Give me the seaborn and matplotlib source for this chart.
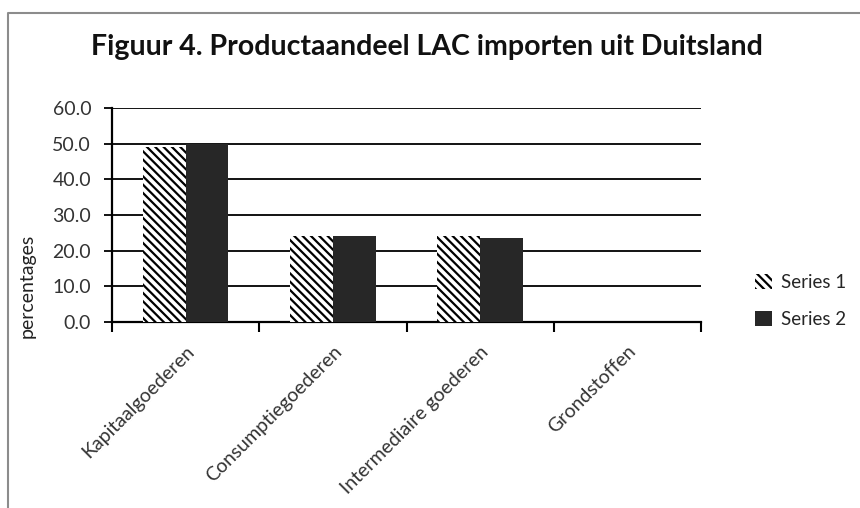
import pandas as pd
import seaborn as sns
import matplotlib.pyplot as plt
import matplotlib.patches as patches
from matplotlib.lines import Line2D
from matplotlib.ticker import FixedLocator

categories = ["Kapitaalgoederen", "Consumptiegoederen", "Intermediaire goederen", "Grondstoffen"]
series_names = ["Series 1", "Series 2"]
series1 = [49.2, 24.2, 24.2, 0.0]
series2 = [50.0, 24.2, 23.6, 0.0]
yticks = [0, 10, 20, 30, 40, 50, 60]

sns.set_style("white")
plt.rcParams['font.family'] = ['Lato', 'DejaVu Sans']
plt.rcParams['hatch.linewidth'] = 1.6
plt.rcParams['hatch.color'] = 'black'

df = pd.DataFrame({
    "cat": categories * 2,
    "series": [series_names[0]] * 4 + [series_names[1]] * 4,
    "value": series1 + series2,
})

fig = plt.figure(figsize=[8.6, 5.08], dpi=100)
ax = fig.add_axes([112/860, 1-322/508, (701-112)/860, (322-108)/508])

colors = ["white", "#272727"]
sns.barplot(data=df, x="cat", y="value", hue="series", palette=colors, width=0.58,
            gap=0, linewidth=0, ax=ax, legend=False, zorder=3)

for p in ax.containers[0]:
    p.set_hatch("\\\\\\\\")
    p.set_edgecolor("black")
    p.set_linewidth(0)

ax.set_ylim(0, 60)
ax.set_xlim(-0.5, 3.5)
ax.set_yticks(yticks)
ax.set_yticklabels([f"{v:.1f}" for v in yticks], fontsize=14, color="#333333")
ax.yaxis.grid(True, color="black", linewidth=1.3, zorder=0)
ax.tick_params(axis="y", direction="out", length=6, width=1.3, color="black", left=True, pad=9)

# category labels at centers, tick marks at boundaries
ax.set_xticks(range(len(categories)))
ax.set_xticklabels(categories, rotation=45, ha="right", rotation_mode="anchor", fontsize=14, color="#333333")
ax.tick_params(axis="x", which="major", length=0, pad=15)
ax.xaxis.set_minor_locator(FixedLocator([-0.5, 0.5, 1.5, 2.5, 3.5]))
ax.tick_params(axis="x", which="minor", direction="out", length=7, width=1.5, color="black", bottom=True)

for s in ["top", "right"]:
    ax.spines[s].set_visible(False)
for s in ["left", "bottom"]:
    ax.spines[s].set_color("black")
    ax.spines[s].set_linewidth(1.6)

ax.set_xlabel("")
ax.set_ylabel("percentages", fontsize=14, color="#222222")
ax.yaxis.set_label_coords(-0.13, 0.17)

handles = [patches.Patch(facecolor="white", hatch="\\\\\\\\", edgecolor="black", linewidth=0),
           patches.Patch(facecolor=colors[1], linewidth=0)]
fig.legend(handles, series_names, loc="center left", bbox_to_anchor=(738/860, 1-301/508),
           frameon=False, fontsize=13.5, handlelength=0.9, handleheight=0.9,
           labelspacing=1.05, handletextpad=0.5)

fig.text(427/860, 1-47/508, "Figuur 4. Productaandeel LAC importen uit Duitsland",
         ha="center", va="center", fontsize=20.5, fontweight="bold", color="#111111")

# outer chart border (left and top)
fig.add_artist(Line2D([8/860, 8/860, 1.0], [0.0, 1-13/508, 1-13/508],
                      transform=fig.transFigure, color="#8c8c8c", linewidth=1.5))

fig.savefig("out.png", dpi=100)
